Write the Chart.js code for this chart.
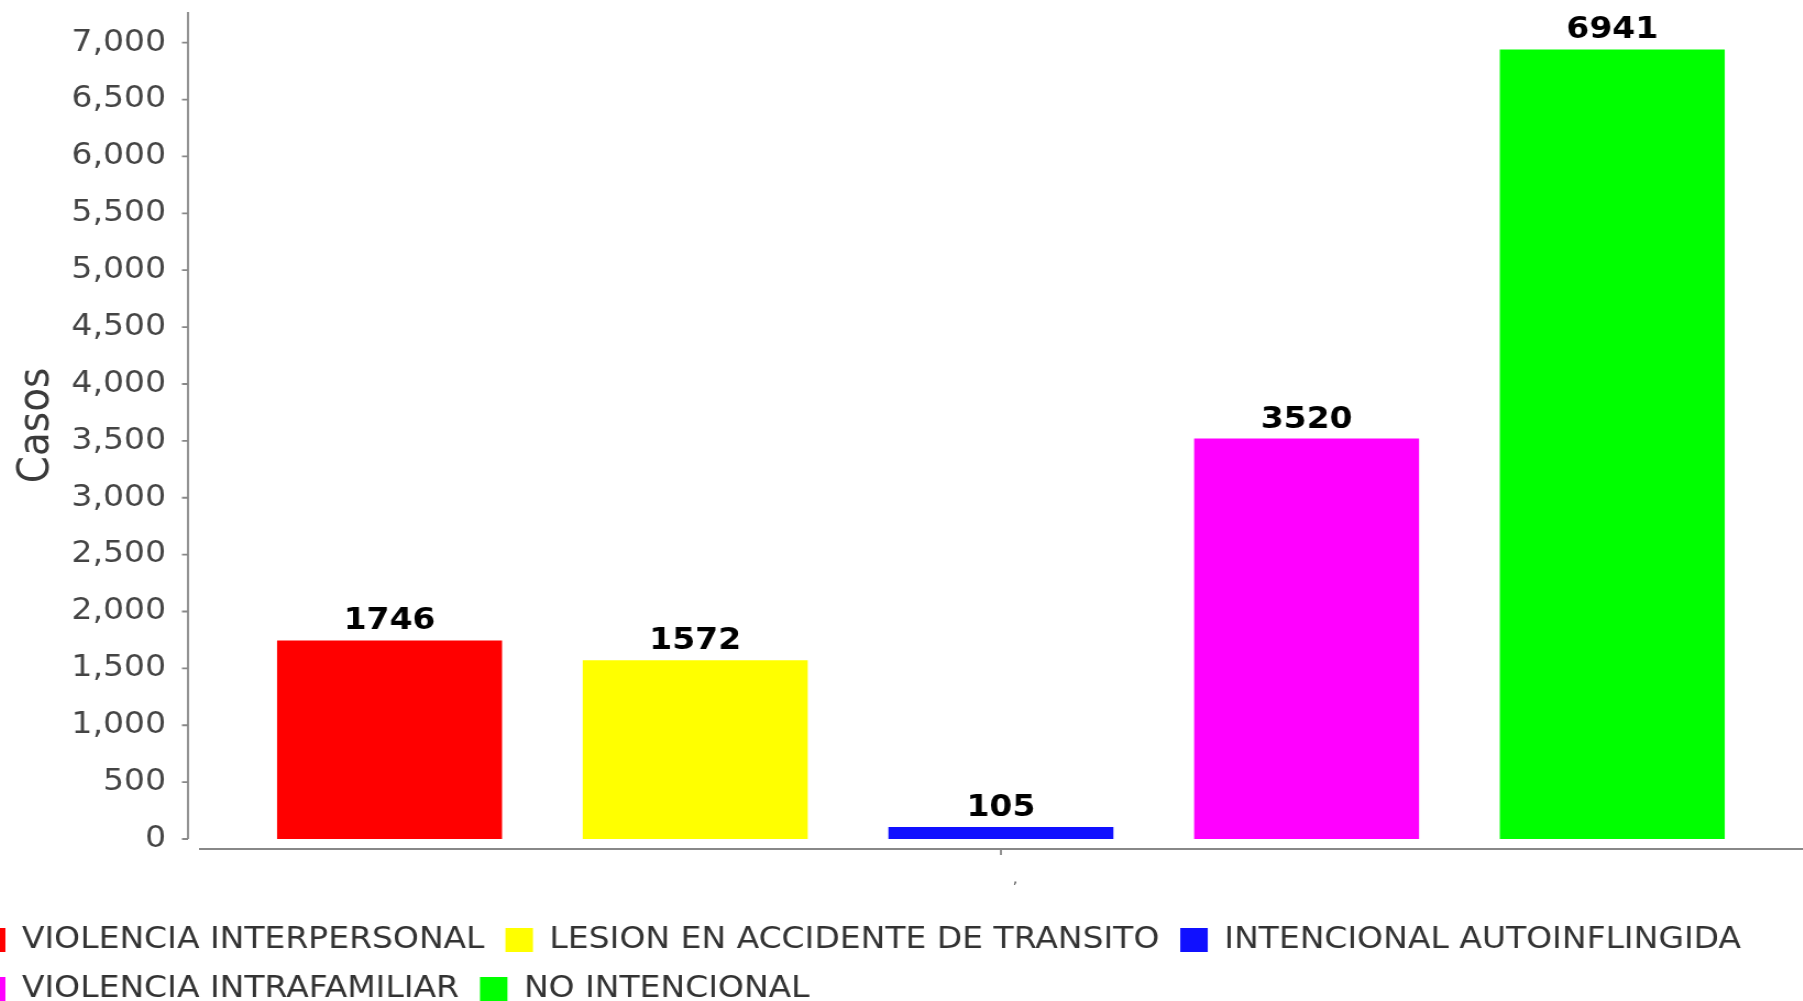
<!DOCTYPE html>
<html>
<head>
<meta charset="utf-8">
<script src="https://cdn.jsdelivr.net/npm/chart.js@4/dist/chart.umd.min.js"></script>
<style>
    html, body { margin: 0; padding: 0; background: #fff; overflow: hidden; }
    /* the original picture is wider than tall in scale, so stretch the canvas a bit */
    #casosChart { position: absolute; left: -43px; top: 0; transform: scaleX(1.1); transform-origin: 0 0; }
</style>
</head>
<body>
<canvas id="casosChart" width="1678" height="1014"></canvas>
<script>
const categories = [','];
const seriesNames = [
    'VIOLENCIA INTERPERSONAL',
    'LESION EN ACCIDENTE DE TRANSITO',
    'INTENCIONAL AUTOINFLINGIDA',
    'VIOLENCIA INTRAFAMILIAR',
    'NO INTENCIONAL'
];
const seriesValues = [1746, 1572, 105, 3520, 6941];
const seriesColors = ['#ff0000', '#ffff00', '#1010ff', '#ff00ff', '#00ff00'];
const yTickValues = [0, 500, 1000, 1500, 2000, 2500, 3000, 3500, 4000, 4500, 5000, 5500, 6000, 6500, 7000];
const yMin = 0;
const yMax = 7270;

// axis lines sit a little away from the plot, like the original
const axisLines = {
    id: 'axisLines',
    afterDraw(chart) {
        const { ctx, chartArea } = chart;
        const yScale = chart.scales.y;
        const axX = chartArea.left - 10;
        const axY = chartArea.bottom + 10;
        ctx.save();
        ctx.strokeStyle = '#888';
        ctx.lineWidth = 1.8;
        ctx.beginPath();
        ctx.moveTo(axX, chartArea.top);
        ctx.lineTo(axX, chartArea.bottom);
        yScale.ticks.forEach(t => {
            const py = yScale.getPixelForValue(t.value);
            ctx.moveTo(axX - 5.5, py);
            ctx.lineTo(axX, py);
        });
        ctx.moveTo(chartArea.left, axY);
        ctx.lineTo(chartArea.right, axY);
        const cx = chart.scales.x.getPixelForValue(0);
        ctx.moveTo(cx, axY);
        ctx.lineTo(cx, axY + 6);
        ctx.stroke();
        ctx.restore();
    }
};

const valueLabels = {
    id: 'valueLabels',
    afterDatasetsDraw(chart) {
        const ctx = chart.ctx;
        ctx.save();
        ctx.font = 'bold 30px "DejaVu Sans"';
        ctx.fillStyle = '#000';
        ctx.textAlign = 'center';
        ctx.textBaseline = 'alphabetic';
        chart.data.datasets.forEach((ds, i) => {
            const bar = chart.getDatasetMeta(i).data[0];
            ctx.fillText(String(ds.data[0]), bar.x, bar.y - 11);
        });
        ctx.restore();
    }
};

const datasets = seriesNames.map((name, i) => ({
    label: name,
    data: [seriesValues[i]],
    backgroundColor: seriesColors[i],
    borderWidth: 0,
    categoryPercentage: 0.953,
    barPercentage: 0.736
}));

new Chart(document.getElementById('casosChart'), {
    type: 'bar',
    data: { labels: categories, datasets: datasets },
    options: {
        responsive: false,
        animation: false,
        locale: 'en-US',
        layout: { padding: { top: 12, left: 0, right: 0, bottom: 0 } },
        scales: {
            x: {
                grid: { display: false, drawTicks: false },
                border: { display: false },
                ticks: { padding: 32, labelOffset: 13, color: '#555', font: { family: 'DejaVu Sans', size: 14 } },
                afterFit(scale) {
                    scale.height = 67;
                    scale.paddingLeft = 0;
                    scale.paddingRight = 0;
                }
            },
            y: {
                min: yMin,
                max: yMax,
                grid: { display: false, drawTicks: false },
                border: { display: false },
                ticks: {
                    padding: 30,
                    color: '#444',
                    font: { family: 'DejaVu Sans', size: 30 }
                },
                afterBuildTicks(scale) {
                    scale.ticks = yTickValues.map(v => ({ value: v }));
                },
                title: {
                    display: true,
                    text: 'Casos',
                    color: '#3a3a3a',
                    font: { family: 'DejaVu Sans', size: 39 },
                    padding: { top: 49, bottom: 0 }
                },
                afterFit(scale) {
                    scale.width = 220;
                    scale.paddingTop = 0;
                    scale.paddingBottom = 0;
                }
            }
        },
        plugins: {
            tooltip: { enabled: false },
            legend: {
                position: 'bottom',
                align: 'start',
                labels: {
                    boxWidth: 25,
                    boxHeight: 24,
                    padding: 19,
                    color: '#333',
                    font: { family: 'DejaVu Sans', size: 30 }
                }
            }
        }
    },
    plugins: [axisLines, valueLabels]
});
</script>
</body>
</html>
